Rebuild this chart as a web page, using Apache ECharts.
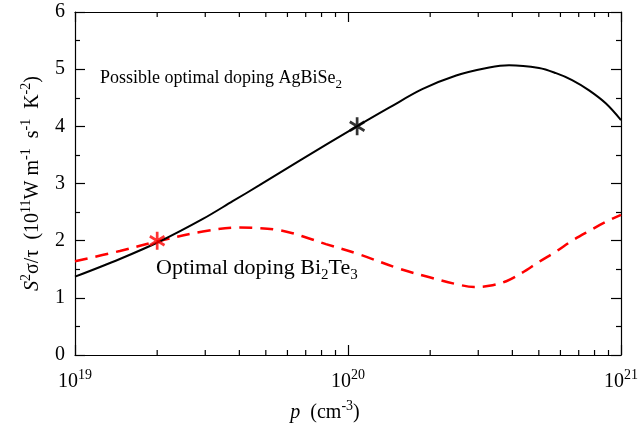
<!DOCTYPE html>
<html>
<head>
<meta charset="utf-8">
<script src="https://cdn.jsdelivr.net/npm/echarts@6/dist/echarts.min.js"></script>
<style>
  html, body { margin: 0; padding: 0; background: #fff; }
  #chart { width: 641px; height: 429px; }
</style>
</head>
<body>
<div id="chart"></div>
<script>
// S^2 sigma/tau vs hole concentration p
const blackP = [1e19, 1.46e19, 2.05e19, 2.94e19, 3.78e19, 4.74e19, 6.65e19, 1.07e20, 1.42e20,
    1.87e20, 2.49e20, 3.29e20, 3.89e20, 5.01e20, 5.78e20, 6.62e20, 7.64e20, 8.81e20, 1e21];
const blackVal = [1.37, 1.68, 1.99, 2.38, 2.69, 2.97, 3.40, 3.99, 4.33,
    4.65, 4.89, 5.03, 5.07, 5.02, 4.93, 4.81, 4.63, 4.40, 4.11];

const redP = [1e19, 1.46e19, 2.05e19, 2.94e19, 4.01e19, 4.74e19, 5.5e19, 6.27e19, 7.3e19, 8.3e19, 1.1e20, 1.54e20,
    1.99e20, 2.49e20, 2.9e20, 3.29e20, 3.8e20, 4.35e20, 5.01e20, 5.78e20, 6.62e20, 7.64e20, 8.81e20, 1e21];
const redVal = [1.64, 1.82, 2.0, 2.16, 2.23, 2.22, 2.19, 2.13, 2.03, 1.94, 1.76, 1.51,
    1.36, 1.24, 1.19, 1.21, 1.29, 1.44, 1.63, 1.81, 2.0, 2.17, 2.33, 2.45];

// optimal doping points (asterisks)
const redStar = [2e19, 2.0];
const blackStar = [1.08e20, 4.0];

const xMajorTicks = [1e19, 1e20, 1e21];
const xMinorTicks = [2e19, 3e19, 4e19, 5e19, 6e19, 7e19, 8e19, 9e19,
    2e20, 3e20, 4e20, 5e20, 6e20, 7e20, 8e20, 9e20];

const FONT = 'Liberation Serif';
const asterisk = 'path://M42 0L58 0L58 100L42 100Z M2.7 32L10.7 18L97.3 68L89.3 82Z M2.7 68L89.3 18L97.3 32L10.7 82Z';

const zip = function (xs, ys) {
    return xs.map(function (x, i) { return [x, ys[i]]; });
};

const makeRich = function (size, supSize, lh) {
    return {
        n: { fontFamily: FONT, fontSize: size, color: '#000', lineHeight: lh },
        i: { fontFamily: FONT, fontSize: size, fontStyle: 'italic', color: '#000', lineHeight: lh },
        sup: { fontFamily: FONT, fontSize: supSize, color: '#000', lineHeight: supSize, verticalAlign: 'top' },
        sub: { fontFamily: FONT, fontSize: supSize, color: '#000', lineHeight: supSize, verticalAlign: 'bottom' }
    };
};
const axisRich = makeRich(20, 14, 28);
const noteRich = makeRich(18, 13, 26);
const noteRich2 = makeRich(22, 15, 30);

const ls = function () { return { color: '#000', width: 1.2 }; };

const logAxis = function (position, labels) {
    return {
        type: 'log',
        logBase: 10,
        min: 1e19,
        max: 1e21,
        position: position,
        axisLine: { show: true, onZero: false, lineStyle: ls() },
        axisTick: { show: true, inside: true, length: 10, lineStyle: ls() },
        axisLabel: labels ? {
            show: true,
            margin: 13,
            formatter: function (v) {
                return '{n|10}{sup|' + Math.round(Math.log10(v)) + '}';
            },
            rich: axisRich
        } : { show: false },
        splitLine: { show: false },
        minorTick: { show: false }
    };
};

const yAxisBase = function (position, labels) {
    return {
        type: 'value',
        min: 0,
        max: 6,
        interval: 1,
        position: position,
        axisLine: { show: true, onZero: false, lineStyle: ls() },
        axisTick: { show: true, inside: true, length: 10, lineStyle: ls() },
        minorTick: { show: true, splitNumber: 2, length: 5, lineStyle: ls() },
        axisLabel: { show: labels, color: '#000', fontFamily: FONT, fontSize: 20, margin: 10 },
        splitLine: { show: false }
    };
};

const chart = echarts.init(document.getElementById('chart'));

const xMain = logAxis('bottom', true);
xMain.name = '{i|p}{n|  (cm}{sup|-3}{n|)}';
xMain.nameLocation = 'middle';
xMain.nameGap = 44;
xMain.nameTextStyle = { rich: axisRich, padding: [0, 46, 0, 0] };

const yMain = yAxisBase('left', true);
yMain.name = '{i|S}{sup|2}{n|σ/τ  (10}{sup|11}{n|W m}{sup|-1}{n|  s}{sup|-1}{n|  K}{sup|-2}{n|)}';
yMain.nameLocation = 'middle';
yMain.nameGap = 28;
yMain.nameRotate = 90;
yMain.nameTextStyle = { rich: axisRich };

// inward minor ticks of the log axis, bottom and top, placed with the axis scale
const renderMinorTick = function (params, api) {
    const lo = api.coord([api.value(0), 0]);
    const hi = api.coord([api.value(0), 6]);
    return {
        type: 'group',
        children: [
            { type: 'rect', shape: { x: lo[0] - 0.6, y: lo[1] - 5, width: 1.2, height: 5 }, style: { fill: '#000' } },
            { type: 'rect', shape: { x: hi[0] - 0.6, y: hi[1], width: 1.2, height: 5 }, style: { fill: '#000' } }
        ]
    };
};

chart.setOption({
    animation: false,
    backgroundColor: '#fff',
    grid: { left: 75, right: 19, top: 12, bottom: 74 },
    xAxis: [
        xMain,
        logAxis('top', false)
    ],
    yAxis: [
        yMain,
        yAxisBase('right', false)
    ],
    graphic: [
        {
            type: 'text',
            left: 100,
            top: 69,
            style: {
                text: '{n|Possible optimal doping AgBiSe}{sub|2}',
                rich: noteRich
            }
        },
        {
            type: 'text',
            left: 156,
            top: 257,
            style: {
                text: '{n|Optimal doping Bi}{sub|2}{n|Te}{sub|3}',
                rich: noteRich2
            }
        }
    ],
    series: [
        {
            type: 'custom',
            data: xMinorTicks.map(function (v) { return [v, 0]; }),
            renderItem: renderMinorTick,
            clip: false,
            z: 10
        },
        {
            type: 'line',
            data: zip(blackP, blackVal),
            smooth: 0.35,
            showSymbol: false,
            lineStyle: { color: '#000', width: 2 },
            z: 3
        },
        {
            type: 'line',
            data: zip(redP, redVal),
            smooth: 0.35,
            showSymbol: false,
            lineStyle: { color: '#ff0000', width: 2.5, type: [13, 8] },
            z: 2
        },
        {
            type: 'scatter',
            data: [redStar],
            symbol: asterisk,
            symbolSize: [16, 18],
            itemStyle: { color: '#ff0000' },
            z: 4
        },
        {
            type: 'scatter',
            data: [blackStar],
            symbol: asterisk,
            symbolSize: [16, 18],
            itemStyle: { color: '#000' },
            z: 4
        }
    ]
});
</script>
</body>
</html>
